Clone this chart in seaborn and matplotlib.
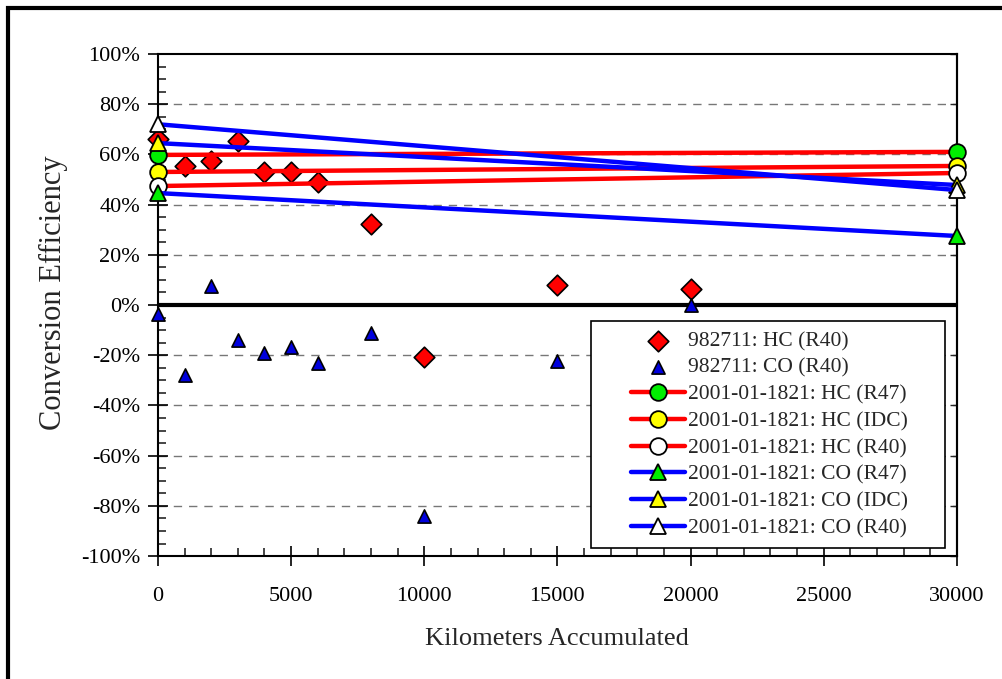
import matplotlib
matplotlib.use('Agg')
import matplotlib.pyplot as plt
import matplotlib.patches as patches
from matplotlib.collections import PathCollection
from matplotlib.legend_handler import HandlerLine2D, HandlerPathCollection
from matplotlib.lines import Line2D
from matplotlib.ticker import MultipleLocator, PercentFormatter
import numpy as np
import seaborn as sns

# vehicle 982711 (scatter only)
km_982711 = [0, 1000, 2000, 3000, 4000, 5000, 6000, 8000, 10000, 15000, 20000]
hc_982711 = [66, 55.4, 57.4, 65.3, 53, 53, 49, 32.3, -20.7, 8, 6.4]
co_982711 = [-3.6, -28, 7.6, -14, -19, -16.7, -23, -11, -84, -22.3, 0]

# vehicle 2001-01-1821 (two points, 0 and 30000 km)
km_1821 = [0, 30000]
hc_r47 = [59.8, 61]
hc_idc = [53, 55.4]
hc_r40 = [47.4, 52.6]
co_r47 = [44.6, 27.5]
co_idc = [64.5, 47.8]
co_r40 = [72, 45.8]

SEG = 0.64  # fraction of the handle box used by the legend line (right aligned)
PAD = '     '  # right padding inside the legend box


class RightLine(HandlerLine2D):
    def get_xdata(self, legend, xdescent, ydescent, width, height, fontsize):
        x0 = -xdescent + width * (1 - SEG)
        x1 = -xdescent + width
        return np.array([x0, x1]), np.array([(x0 + x1) / 2])


class RightScatter(HandlerPathCollection):
    def get_xdata(self, legend, xdescent, ydescent, width, height, fontsize):
        xm = -xdescent + width * (1 - SEG / 2)
        return np.array([xm]), np.array([xm])


sns.set_style('white')
plt.rcParams['font.family'] = ['Liberation Serif', 'DejaVu Serif']
plt.rcParams['axes.unicode_minus'] = False

fig = plt.figure(figsize=(10.03, 6.79), dpi=100)
ax = fig.add_axes([0.1575, 0.181, 0.7965, 0.7395])

# outer frame (only left/top edges fall inside the picture)
fig.add_artist(patches.Rectangle((8 / 1003, -0.5), 1.5, 1.5 - 8 / 679, transform=fig.transFigure,
                                 fill=False, edgecolor='black', linewidth=3, clip_on=False))

# grid and zero line
for yv in [-80, -60, -40, -20, 20, 40, 60, 80]:
    ax.axhline(yv, color='#777777', linestyle=(0, (6, 5)), linewidth=1, zorder=0)
ax.axhline(0, color='black', linewidth=3, zorder=1)

sns.scatterplot(x=km_982711, y=hc_982711, marker='D', color='red', edgecolor='black', linewidth=1.2,
                s=110, label='982711: HC (R40)' + PAD, ax=ax, zorder=3, clip_on=False)
sns.scatterplot(x=km_982711, y=co_982711, marker='^', color='#0000dd', edgecolor='black', linewidth=1.2,
                s=90, label='982711: CO (R40)' + PAD, ax=ax, zorder=3, clip_on=False)

series = [
    (hc_r47, 'red', 'o', '#00ee00', '2001-01-1821: HC (R47)'),
    (hc_idc, 'red', 'o', '#ffff00', '2001-01-1821: HC (IDC)'),
    (hc_r40, 'red', 'o', 'white', '2001-01-1821: HC (R40)'),
    (co_r47, '#0000ff', '^', '#00ee00', '2001-01-1821: CO (R47)'),
    (co_idc, '#0000ff', '^', '#ffff00', '2001-01-1821: CO (IDC)'),
    (co_r40, '#0000ff', '^', 'white', '2001-01-1821: CO (R40)'),
]
for vals, lc, mk, fc, lab in series:
    sns.lineplot(x=km_1821, y=vals, color=lc, linewidth=3.2, marker=mk, markersize=12,
                 markerfacecolor=fc, markeredgecolor='black', markeredgewidth=1.3,
                 label=lab + PAD, ax=ax, zorder=4, clip_on=False)

ax.set_xlim(0, 30000)
ax.set_ylim(-100, 100)
ax.xaxis.set_major_locator(MultipleLocator(5000))
ax.xaxis.set_minor_locator(MultipleLocator(1000))
ax.yaxis.set_major_locator(MultipleLocator(20))
ax.yaxis.set_minor_locator(MultipleLocator(5))
ax.yaxis.set_major_formatter(PercentFormatter(decimals=0))

for sp in ax.spines.values():
    sp.set_color('black')
    sp.set_linewidth(1.5)

ax.tick_params(which='major', direction='inout', length=14, width=1.2, labelsize=16,
               left=True, bottom=True, colors='black')
ax.tick_params(axis='y', which='major', pad=6)
ax.tick_params(axis='x', which='major', pad=15)
ax.tick_params(which='minor', direction='in', length=6, width=1.2, left=True, bottom=True)
sec = ax.secondary_yaxis('right')
sec.yaxis.set_major_locator(MultipleLocator(20))
sec.tick_params(direction='in', length=5, width=1, labelright=False)
sec.spines['right'].set_linewidth(1.5)

ax.set_xlabel('Kilometers Accumulated', fontsize=19, labelpad=16)
ax.set_ylabel('Conversion Efficiency', fontsize=22)
ax.yaxis.set_label_coords(-0.113, 0.524)

leg = ax.legend(loc='lower right', bbox_to_anchor=(0.985, 0.016), fontsize=15.5, frameon=True, fancybox=False,
                edgecolor='black', framealpha=1, borderpad=0.45, labelspacing=0.31, handlelength=3.9,
                handletextpad=0.15, markerscale=1.0, borderaxespad=0,
                handler_map={Line2D: RightLine(), PathCollection: RightScatter()})
leg.get_frame().set_linewidth(1.2)

fig.savefig('out.png', dpi=100)
